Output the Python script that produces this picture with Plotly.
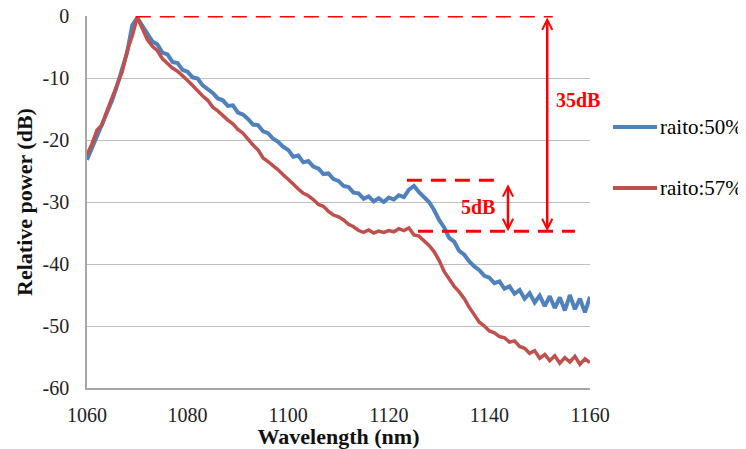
import plotly.graph_objects as go

# wavelength grid (nm), 1 nm steps
wavelength = list(range(1060, 1161))

# relative power (dB) for the two output ratios
power_50 = [
    -23.2, -21.3, -19.6, -17.8, -15.9, -13.6, -11.2, -8.6, -5.8, -1.5,
    -0.3, -1.6, -2.8, -4.1, -4.6, -5.9, -6.2, -7.4, -7.6, -8.7,
    -9.0, -9.9, -10.1, -11.2, -11.8, -12.4, -13.3, -13.6, -14.5, -14.4,
    -15.6, -15.9, -16.6, -17.5, -17.6, -18.6, -18.9, -19.8, -20.3, -21.1,
    -21.6, -22.7, -22.5, -23.6, -23.4, -24.3, -24.6, -25.5, -25.4, -26.3,
    -26.6, -27.4, -27.6, -28.5, -28.6, -29.5, -29.1, -29.9, -29.4, -30.0,
    -29.3, -29.6, -28.9, -29.2, -28.0, -27.4, -28.4, -29.1, -30.0, -31.3,
    -32.9, -34.1, -35.8, -36.4, -37.9, -38.5, -39.6, -40.4, -41.0, -41.9,
    -42.2, -43.1, -42.8, -44.0, -43.6, -44.8, -44.2, -45.6, -44.7, -46.2,
    -45.1, -46.8, -45.2, -47.1, -45.4, -47.5, -45.0, -47.3, -45.6, -47.8,
    -45.3,
]
power_57 = [
    -22.4, -20.6, -18.4, -17.6, -15.2, -13.1, -10.8, -9.0, -5.6, -3.2,
    -0.2, -2.1, -3.8, -4.9, -5.6, -6.9, -7.6, -8.4, -8.9, -9.6,
    -10.4, -11.2, -12.1, -12.9, -13.6, -14.7, -15.3, -16.1, -16.8, -17.4,
    -18.3, -18.9, -19.9, -20.8, -21.6, -22.9, -23.5, -24.1, -24.8, -25.6,
    -26.3, -27.1, -27.9, -28.6, -29.0, -29.6, -30.4, -30.7, -31.5, -32.1,
    -32.4, -32.9, -33.6, -34.0, -34.6, -34.9, -34.5, -35.0, -34.7, -34.9,
    -34.6, -34.8, -34.3, -34.6, -34.2, -35.3, -35.5, -36.2, -37.0, -38.0,
    -39.4, -41.2, -42.4, -43.6, -44.5, -45.6, -47.0, -48.3, -49.4, -50.0,
    -50.8, -51.1, -51.7, -51.9, -52.6, -52.4, -53.3, -53.6, -54.4, -54.0,
    -55.2, -54.6, -55.6, -54.8, -56.0, -55.1, -55.8, -54.9, -56.2, -55.3,
    -55.9,
]

series_names = ["raito:50%", "raito:57%"]
series_colors = ["#4F81BD", "#C0504D"]
series_widths = [4, 3.5]

x_ticks = [1060, 1080, 1100, 1120, 1140, 1160]
y_ticks = [0, -10, -20, -30, -40, -50, -60]
y_tick_text = ["0", "-10", "-20", "-30", "-40", "-50", "-60"]

# guide lines: (y level, x start, x end)
guide_lines = [
    (0.0, 1069.7, 1152.6),
    (-34.7, 1125.8, 1157.0),
    (-26.5, 1123.6, 1142.5),
]
# double arrows: (x, y top, y bottom, label, label x, label y)
arrows = [
    (1151.5, 0.0, -34.7, "35dB", 1157.6, -13.5),
    (1143.7, -26.9, -34.7, "5dB", 1137.8, -30.8),
]

RED = "#FF0000"
SERIF = "Liberation Serif, Times New Roman, serif"

# the page adds an 8px body margin, so the figure is drawn 8px smaller
W, H = 738, 441
plot_l, plot_r, plot_t, plot_b = 79, 582, 8, 380

fig = go.Figure()
for name, ys, color, lw in zip(series_names, [power_50, power_57],
                               series_colors, series_widths):
    fig.add_trace(go.Scatter(
        x=wavelength, y=ys, mode="lines", name=name,
        line=dict(color=color, width=lw),
        showlegend=False,
    ))

for y, x0, x1 in guide_lines:
    fig.add_shape(type="line", xref="x", yref="y", x0=x0, x1=x1, y0=y, y1=y,
                  line=dict(color=RED, width=3, dash="15px,9px"))

for x, y0, y1, label, lx, ly in arrows:
    fig.add_annotation(x=x, y=y1, ax=x, ay=y0, xref="x", yref="y",
                       axref="x", ayref="y", text="", showarrow=True,
                       arrowhead=5, startarrowhead=5, arrowside="end+start",
                       arrowsize=0.8, startarrowsize=0.8,
                       arrowwidth=2.5, arrowcolor=RED)
    fig.add_annotation(x=lx, y=ly, xref="x", yref="y", text=f"<b>{label}</b>",
                       showarrow=False, font=dict(family=SERIF, size=20, color=RED))

# hand-drawn legend to the right of the plot (Excel style)
legend_rows = [119, 180]
for name, color, py in zip(series_names, series_colors, legend_rows):
    yp = (plot_b - py) / (plot_b - plot_t)
    fig.add_shape(type="line", xref="paper", yref="paper",
                  x0=(605 - plot_l) / (plot_r - plot_l),
                  x1=(649 - plot_l) / (plot_r - plot_l),
                  y0=yp, y1=yp, line=dict(color=color, width=4))
    fig.add_annotation(x=(650 - plot_l) / (plot_r - plot_l), y=yp,
                       xref="paper", yref="paper", xanchor="left",
                       yanchor="middle", text=name, showarrow=False,
                       font=dict(family=SERIF, size=21, color="#000"))

fig.update_layout(
    width=W, height=H,
    margin=dict(l=plot_l, r=W - plot_r, t=plot_t, b=H - plot_b),
    plot_bgcolor="white", paper_bgcolor="white",
    font=dict(family=SERIF, size=20, color="#222"),
    showlegend=False,
    xaxis=dict(
        range=[1060, 1160], tickvals=x_ticks, showgrid=False,
        showline=True, linecolor="#A6A6A6", linewidth=1.5,
        zeroline=False, ticks="", ticklabelstandoff=8, automargin=False,
        ticklabeloverflow="allow",
        title=dict(text="<b>Wavelength (nm)</b>", standoff=1,
                   font=dict(family=SERIF, size=22, color="#111")),
    ),
    yaxis=dict(
        range=[-60, 0], tickvals=y_ticks, ticktext=y_tick_text, showgrid=True,
        gridcolor="#BFBFBF", gridwidth=1.2,
        showline=True, linecolor="#A6A6A6", linewidth=1.5,
        zeroline=False, ticks="", ticklabelstandoff=12, automargin=False,
        ticklabeloverflow="allow",
        title=dict(text="<b>Relative power (dB)</b>", standoff=4,
                   font=dict(family=SERIF, size=22, color="#111")),
    ),
)

fig.write_html("out.html")
